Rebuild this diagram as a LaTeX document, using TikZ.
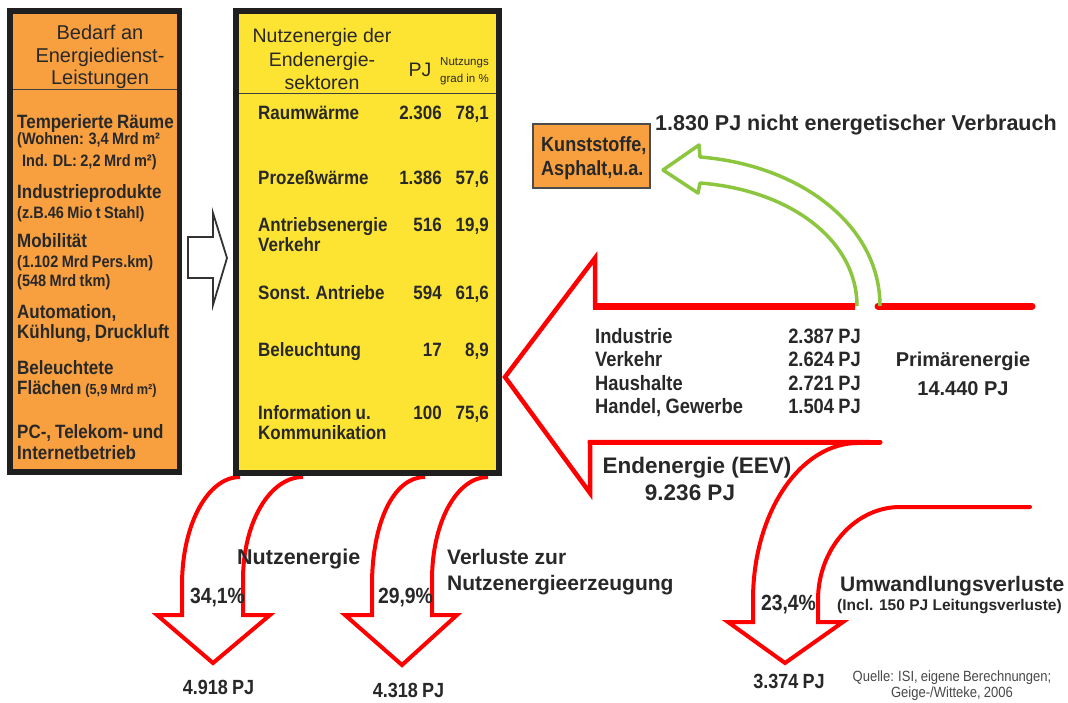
\documentclass[tikz,border=0pt]{standalone}
\usepackage{fontspec}
\setmainfont{Liberation Sans}
\newfontfamily\cnd[FakeStretch=0.88,WordSpace=0.85]{Liberation Sans}
\newcommand{\myfs}[1]{\fontsize{#1}{#1}\selectfont}
\definecolor{orng}{RGB}{248,160,64}
\definecolor{ylw}{RGB}{253,228,50}
\definecolor{grn}{RGB}{140,198,63}
\definecolor{txt}{RGB}{40,40,40}
\definecolor{rd}{RGB}{255,0,0}
\begin{document}
\begin{tikzpicture}[x=1pt,y=-1pt,
  t/.style={inner sep=0pt, text=txt},
  lb/.style={t, anchor=base west},
  cb/.style={t, anchor=base},
  rb/.style={t, anchor=base east},
  hd/.style={font=\myfs{20}},
  li/.style={lb, font=\cnd\bfseries\myfs{19.3}},
  ls/.style={lb, font=\cnd\bfseries\myfs{16.5}},
  yr/.style={lb, font=\cnd\bfseries\myfs{19.3}},
  yv/.style={rb, font=\cnd\bfseries\myfs{19.3}},
  ib/.style={font=\cnd\bfseries\myfs{20.8}},
  pc/.style={cb, font=\cnd\bfseries\myfs{22}},
  pj/.style={cb, font=\cnd\bfseries\myfs{20.5}},
  big/.style={font=\bfseries\myfs{21}},
  redline/.style={draw=rd, line width=4pt, line join=miter},
  box/.style={draw=black!88, inner sep=0pt, outer sep=0pt},
]
\fill[white] (0,0) rectangle (1068,702);
\useasboundingbox (0,0) rectangle (1068,702);

% ---- red flows ----
\draw[redline, line width=4.5pt] (855,306) -- (595,306) -- (595,258) -- (505,377) -- (590,493) -- (590,442) -- (870,442);
\draw[rd, line width=7pt] (593,306) -- (855,306);
\draw[rd, line width=7pt, line cap=round] (878,306) -- (1032,306);
\draw[rd, line width=5pt, line cap=round] (590,442) -- (880,442);
% lower right curved arrow
\draw[redline, line cap=round] (858,443) .. controls (800,443) and (753,513) .. (753,600) -- (753,622) -- (728,622) -- (785,663) -- (843,622) -- (818,622) -- (818,600) .. controls (818,549) and (855,507) .. (900,507) -- (1030,507);
% bottom left arrows
\draw[redline] (240,477) .. controls (208,477) and (182,524) .. (182,585) -- (182,615) -- (157,615) -- (213,663) -- (270,615) -- (243,615) -- (243,580) .. controls (243,522) and (270,477) .. (303,477);
\draw[redline] (425,477) .. controls (393,477) and (372,524) .. (372,585) -- (372,615) -- (345,615) -- (402,665) -- (457,615) -- (432,615) -- (432,580) .. controls (432,522) and (457,477) .. (488,477);
% green arrow
\draw[grn, line width=3.5pt, line join=round] (857,306) .. controls (857,240) and (790,190) .. (700,183) -- (698,193) -- (663,170) -- (699,145) -- (700,157) .. controls (800,165) and (880,225) .. (880,306);

% ---- boxes ----
\node[box, line width=5.5pt, fill=orng, minimum width=169.5pt, minimum height=461pt] (lbox) at (94.75,241.5) {};
\draw[black!75, line width=1pt] (12.75,89) -- (176.75,89);
\node[box, line width=6pt, fill=ylw, minimum width=263pt, minimum height=462pt] (ybox) at (367.5,242) {};
\draw[black!75, line width=1pt] (239,93) -- (496,93);
\draw[line width=1.8pt, draw=black!80, fill=white] (188,237) -- (213,237) -- (213,213) -- (227,258) -- (213,305) -- (213,278) -- (188,278) -- cycle;
\node[box, draw=black!70, line width=1.2pt, fill=orng, minimum width=117pt, minimum height=64pt] (kbox) at (591.5,156) {};

% ---- left box text ----
\node[cb, hd] (h1) at (100,39) {Bedarf an};
\node[cb, hd] (h2) at (100,62) {Energiedienst-};
\node[cb, hd] (h3) at (100,84) {Leistungen};
\node[li] (l1) at (17,128.6) {Temperierte Räume};
\node[ls] (l1a) at (17,144.5) {(Wohnen: 3,4 Mrd m²};
\node[ls] (l1b) at (22,166.5) {Ind. DL: 2,2 Mrd m²)};
\node[li] (l2) at (17,198.6) {Industrieprodukte};
\node[ls] (l2a) at (17,218.5) {(z.B.46 Mio t Stahl)};
\node[li] (l3) at (17,247.6) {Mobilität};
\node[ls] (l3a) at (17,267.5) {(1.102 Mrd Pers.km)};
\node[ls] (l3b) at (17,286.5) {(548 Mrd tkm)};
\node[li] (l4) at (17,318.6) {Automation,};
\node[li] (l4a) at (17,338.6) {Kühlung, Druckluft};
\node[li] (l5) at (17,374.6) {Beleuchtete};
\node[li] (l5a) at (17,394.6) {Flächen {\myfs{14.5}(5,9 Mrd m²)}};
\node[li] (l6) at (17,438.6) {PC-, Telekom- und};
\node[li] (l6a) at (17,459.6) {Internetbetrieb};

% ---- yellow box text ----
\node[cb, font=\myfs{19.5}] (y1) at (322,42.5) {Nutzenergie der};
\node[cb, font=\myfs{19.5}] (y2) at (322,66) {Endenergie-};
\node[cb, font=\myfs{19.5}] (y3) at (322,89.5) {sektoren};
\node[cb, font=\myfs{19.5}] (ypj) at (420,76.5) {PJ};
\node[lb, font=\myfs{11.5}] (yn1) at (440,65) {Nutzungs};
\node[lb, font=\myfs{11.5}] (yn2) at (440,82) {grad in \%};
\node[yr] (r1) at (258,119.6) {Raumwärme};
\node[yv] (r1p) at (442,119.6) {2.306};
\node[yv] (r1g) at (489,119.6) {78,1};
\node[yr] (r2) at (258,184.6) {Prozeßwärme};
\node[yv] (r2p) at (442,184.6) {1.386};
\node[yv] (r2g) at (489,184.6) {57,6};
\node[yr] (r3) at (258,231.6) {Antriebsenergie};
\node[yr] (r3b) at (258,251.6) {Verkehr};
\node[yv] (r3p) at (442,231.6) {516};
\node[yv] (r3g) at (489,231.6) {19,9};
\node[yr] (r4) at (258,299.6) {Sonst. Antriebe};
\node[yv] (r4p) at (442,299.6) {594};
\node[yv] (r4g) at (489,299.6) {61,6};
\node[yr] (r5) at (258,356.6) {Beleuchtung};
\node[yv] (r5p) at (442,356.6) {17};
\node[yv] (r5g) at (489,356.6) {8,9};
\node[yr] (r6) at (258,419.6) {Information u.};
\node[yr] (r6b) at (258,439.6) {Kommunikation};
\node[yv] (r6p) at (442,419.6) {100};
\node[yv] (r6g) at (489,419.6) {75,6};

% ---- right part text ----
\node[lb, font=\bfseries\myfs{21.5}] (nev) at (655,130.5) {1.830 PJ nicht energetischer Verbrauch};
\node[lb, font=\cnd\bfseries\myfs{20.5}] (k1) at (541,151.5) {Kunststoffe,};
\node[lb, font=\cnd\bfseries\myfs{20.5}] (k2) at (541,175) {Asphalt,u.a.};
\node[lb, ib] (s1) at (595,343) {Industrie};
\node[rb, ib] (s1v) at (861,343) {2.387 PJ};
\node[lb, ib] (s2) at (595,366) {Verkehr};
\node[rb, ib] (s2v) at (861,366) {2.624 PJ};
\node[lb, ib] (s3) at (595,390) {Haushalte};
\node[rb, ib] (s3v) at (861,390) {2.721 PJ};
\node[lb, ib] (s4) at (595,413) {Handel, Gewerbe};
\node[rb, ib] (s4v) at (861,413) {1.504 PJ};
\node[cb, font=\bfseries\myfs{20}] (pe1) at (963,366.5) {Primärenergie};
\node[cb, font=\bfseries\myfs{20}] (pe2) at (963,395) {14.440 PJ};
\node[cb, font=\bfseries\myfs{22.5}] (ee1) at (697,473.3) {Endenergie (EEV)};
\node[cb, font=\bfseries\myfs{22.5}] (ee2) at (690,500) {9.236 PJ};

% ---- bottom text ----
\node[lb, font=\bfseries\myfs{21.5}] (ne) at (237,564) {Nutzenergie};
\node[lb, big] (vl1) at (447,564) {Verluste zur};
\node[lb, big] (vl2) at (447,590) {Nutzenergieerzeugung};
\node[pc] (p1) at (217.5,603) {34,1\%};
\node[pc] (p2) at (405.5,603) {29,9\%};
\node[pj] (v1) at (218.5,694) {4.918 PJ};
\node[pj] (v2) at (408.5,697) {4.318 PJ};
\node[lb, big] (uv) at (840,591.5) {Umwandlungsverluste};
\node[lb, font=\bfseries\myfs{15.5}] (uv2) at (837,610) {(Incl. 150 PJ Leitungsverluste)};
\node[pc] (p3) at (788.5,610) {23,4\%};
\node[pj] (v3) at (789,688) {3.374 PJ};
\node[cb, font=\cnd\myfs{14.8}, text=txt!85] (q1) at (952,681.5) {Quelle: ISI, eigene Berechnungen;};
\node[cb, font=\cnd\myfs{14.8}, text=txt!85] (q2) at (952,697.5) {Geige-/Witteke, 2006};
\end{tikzpicture}
\end{document}
